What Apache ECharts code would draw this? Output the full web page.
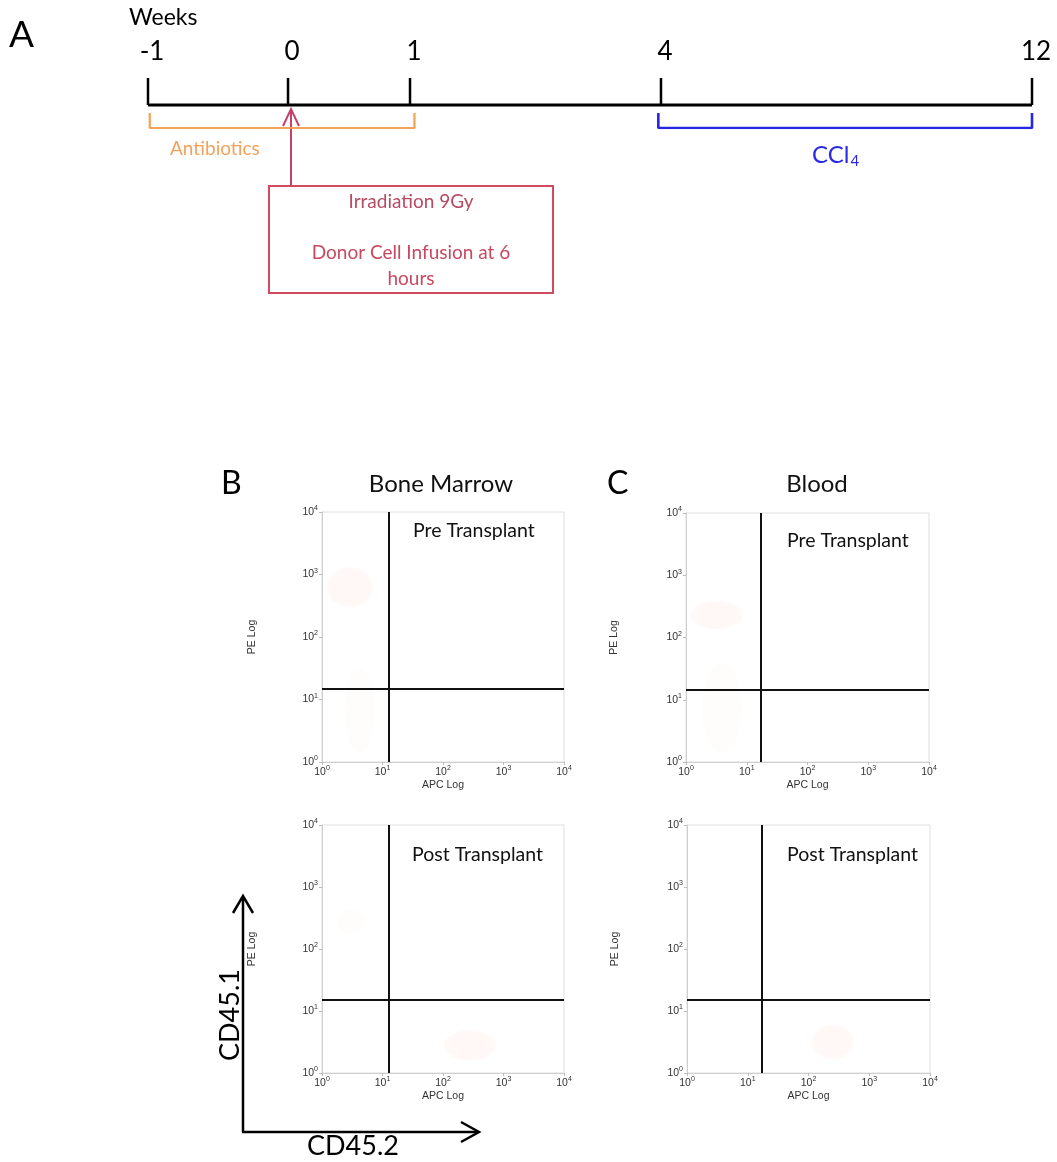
<!DOCTYPE html>
<html><head><meta charset="utf-8">
<script src="https://cdn.jsdelivr.net/npm/echarts@6/dist/echarts.min.js"></script>
<style>html,body{margin:0;padding:0;background:#fff}#c{width:1057px;height:1162px}</style>
</head><body><div id="c"></div>
<script>
// ---- Panel A: timeline (schematic, non-linear spacing as in the figure) ----
const weekLabels = ['-1', '0', '1', '4', '12'];
const weekPos = [0, 1.584, 2.964, 5.803, 10];       // schematic position of each week tick
const antibioticsWeeks = [0, 2];                    // indices into weekLabels: week -1 .. week 1
const ccl4Weeks = [3, 4];                           // week 4 .. week 12

// ---- Panels B/C: flow cytometry (log axes) ----
const decadeTicks = [1, 10, 100, 1000, 10000];
const plotNames = ['bmPre', 'bloodPre', 'bmPost', 'bloodPost'];
const gateApc = [12.8, 17.1, 12.8, 17.1];           // vertical quadrant gate (APC)
const gatePe = [14.7, 14.7, 15.0, 15.0];            // horizontal quadrant gate (PE)
const blobsBmPre = [[2.9, 630], [4.2, 6.8]];
const blobsBloodPre = [[3.2, 229], [3.9, 7.4]];
const blobsBmPost = [[280, 2.8], [3.0, 280]];
const blobsBloodPost = [[250, 3.2]];

const FONT = 'Lato, "Open Sans", sans-serif';
const chart = echarts.init(document.getElementById('c'), null, {renderer: 'canvas'});

const gridBoxes = [
  {left: 322, top: 512, width: 242, height: 250},
  {left: 686, top: 513, width: 243, height: 249},
  {left: 322, top: 825, width: 242, height: 248},
  {left: 687, top: 825, width: 243, height: 248}
];
const blobSets = [blobsBmPre, blobsBloodPre, blobsBmPost, blobsBloodPost];
const blobSizes = [[[46, 40], [30, 85]], [[52, 28], [40, 90]], [[52, 30], [28, 25]], [[42, 34]]];
const blobAlpha = [[0.07, 0.025], [0.07, 0.025], [0.07, 0.025], [0.07]];

function supLabel(v) {
  const e = Math.round(Math.log10(v));
  return '{b|10}{s|' + e + '}';
}
const labelRich = {
  b: {fontSize: 10.5, color: '#333', fontFamily: 'Liberation Sans, Arial'},
  s: {fontSize: 7, color: '#333', fontFamily: 'Liberation Sans, Arial', padding: [0, 0, 7, 0]}
};

const grids = [{left: 148, width: 884, top: 78, height: 50}].concat(gridBoxes.map(g => Object.assign({show: true, borderColor: '#dedede', borderWidth: 1}, g)));

const xAxes = [{gridIndex: 0, type: 'value', min: 0, max: 10, show: false}];
const yAxes = [{gridIndex: 0, type: 'value', min: 0, max: 1, show: false}];
gridBoxes.forEach((g, i) => {
  const nameGapY = (i % 2 === 0) ? 64 : 66;
  xAxes.push({
    gridIndex: i + 1, type: 'log', logBase: 10, min: decadeTicks[0], max: decadeTicks[4],
    name: 'APC Log', nameLocation: 'middle', nameGap: 18,
    nameTextStyle: {fontSize: 10.5, color: '#333', fontFamily: 'Liberation Sans, Arial'},
    axisLine: {lineStyle: {color: '#cfcfcf'}}, axisTick: {length: 3, lineStyle: {color: '#bbb'}},
    splitLine: {show: false}, minorTick: {show: false},
    axisLabel: {formatter: supLabel, rich: labelRich, margin: 3}
  });
  yAxes.push({
    gridIndex: i + 1, type: 'log', logBase: 10, min: decadeTicks[0], max: decadeTicks[4],
    name: 'PE Log', nameLocation: 'middle', nameGap: nameGapY, nameRotate: 90,
    nameTextStyle: {fontSize: 10.5, color: '#333', fontFamily: 'Liberation Sans, Arial'},
    axisLine: {show: true, lineStyle: {color: '#cfcfcf'}}, axisTick: {show: true, length: 3, lineStyle: {color: '#bbb'}},
    splitLine: {show: false},
    axisLabel: {formatter: supLabel, rich: labelRich, margin: 4}
  });
});

const series = [];
// main timeline
series.push({type: 'line', xAxisIndex: 0, yAxisIndex: 0, silent: true, symbol: 'none',
  data: [[weekPos[0], 0.46], [weekPos[4], 0.46]], lineStyle: {color: '#000', width: 3}});
// ticks + labels
series.push({type: 'custom', xAxisIndex: 0, yAxisIndex: 0, silent: true,
  data: weekPos.map(p => [p, 0.46]),
  encode: {x: 0, y: 1},
  renderItem: (params, api) => {
    const p = api.value(0);
    const top = api.coord([p, 1]);
    const bot = api.coord([p, 0.46]);
    return {type: 'group', children: [
      {type: 'line', shape: {x1: top[0], y1: top[1], x2: bot[0], y2: bot[1]}, style: {stroke: '#000', lineWidth: 2.5}},
      {type: 'text', style: {text: weekLabels[params.dataIndex], x: top[0] + 4, y: top[1] - 26,
        align: 'center', verticalAlign: 'middle', fontSize: 26, fontFamily: FONT, fill: '#000'}}
    ]};
  }});
// brackets
function bracket(idx, color, width, extra) {
  const x0 = weekPos[idx[0]] + extra[0], x1 = weekPos[idx[1]] + extra[1];
  return {type: 'line', xAxisIndex: 0, yAxisIndex: 0, silent: true, symbol: 'none',
    data: [[x0, 0.3], [x0, 0], [x1, 0], [x1, 0.3]], lineStyle: {color: color, width: width}};
}
series.push(bracket(antibioticsWeeks, '#f4a356', 2.2, [0.02, 0.05]));
series.push(bracket(ccl4Weeks, '#2626e4', 2.6, [-0.03, 0]));

// flow plots
gridBoxes.forEach((g, i) => {
  series.push({
    type: 'scatter', xAxisIndex: i + 1, yAxisIndex: i + 1, silent: true,
    data: blobSets[i].map((d, j) => ({value: d, symbolSize: blobSizes[i][j],
      itemStyle: {color: 'rgba(255,150,110,' + blobAlpha[i][j] + ')', shadowBlur: 20, shadowColor: 'rgba(255,150,110,' + blobAlpha[i][j] * 1.5 + ')'}})),
    markLine: {silent: true, symbol: 'none', label: {show: false}, animation: false,
      lineStyle: {color: '#111', width: 2, type: 'solid'},
      data: [{xAxis: gateApc[i]}, {yAxis: gatePe[i]}]}
  });
});

const red = '#c9485f';
const blue = '#2a2ae6';
const graphic = [
  {type: 'text', left: 9, top: 17, style: {text: 'A', fontSize: 37, fontFamily: FONT, fill: '#000'}},
  {type: 'text', left: 129, top: 6, style: {text: 'Weeks', fontSize: 23, fontFamily: FONT, fill: '#000'}},
  {type: 'text', left: 170, top: 139, style: {text: 'Antibiotics', fontSize: 19, fontFamily: FONT, fill: '#f3a25c'}},
  {type: 'text', left: 812, top: 143, style: {text: '{a|CCl}{s|4}', fill: blue,
    rich: {a: {fontSize: 24, fontFamily: FONT, fill: blue}, s: {fontSize: 15, fontFamily: FONT, fill: blue, padding: [12, 0, 0, 1]}}}},
  {type: 'polyline', shape: {points: [[291, 186], [291, 109]]}, style: {stroke: '#c2406a', lineWidth: 2, fill: null}},
  {type: 'polyline', shape: {points: [[283, 126], [291, 109], [299, 126]]}, style: {stroke: '#c2406a', lineWidth: 2, fill: null}},
  {type: 'rect', shape: {x: 269, y: 186, width: 284, height: 107}, style: {stroke: '#d24a5e', lineWidth: 2, fill: null}},
  {type: 'text', x: 411, y: 202, style: {text: 'Irradiation 9Gy', align: 'center', verticalAlign: 'middle', fontSize: 19, fontFamily: FONT, fill: '#b84a62'}},
  {type: 'text', x: 411, y: 253, style: {text: 'Donor Cell Infusion at 6', align: 'center', verticalAlign: 'middle', fontSize: 19, fontFamily: FONT, fill: red}},
  {type: 'text', x: 411, y: 279, style: {text: 'hours', align: 'center', verticalAlign: 'middle', fontSize: 19, fontFamily: FONT, fill: red}},

  {type: 'text', x: 221, y: 484, style: {text: 'B', verticalAlign: 'middle', fontSize: 32, fontFamily: FONT, fill: '#000'}},
  {type: 'text', x: 607, y: 484, style: {text: 'C', verticalAlign: 'middle', fontSize: 32, fontFamily: FONT, fill: '#000'}},
  {type: 'text', x: 441, y: 484, style: {text: 'Bone Marrow', align: 'center', verticalAlign: 'middle', fontSize: 24, fontFamily: FONT, fill: '#111'}},
  {type: 'text', x: 817, y: 484, style: {text: 'Blood', align: 'center', verticalAlign: 'middle', fontSize: 24, fontFamily: FONT, fill: '#111'}},
  {type: 'text', x: 413, y: 531, style: {text: 'Pre Transplant', verticalAlign: 'middle', fontSize: 19.5, fontFamily: FONT, fill: '#111'}},
  {type: 'text', x: 787, y: 541, style: {text: 'Pre Transplant', verticalAlign: 'middle', fontSize: 19.5, fontFamily: FONT, fill: '#111'}},
  {type: 'text', x: 412, y: 855, style: {text: 'Post Transplant', verticalAlign: 'middle', fontSize: 19.5, fontFamily: FONT, fill: '#111'}},
  {type: 'text', x: 787, y: 855, style: {text: 'Post Transplant', verticalAlign: 'middle', fontSize: 19.5, fontFamily: FONT, fill: '#111'}},

  {type: 'polyline', shape: {points: [[243, 1132], [243, 897]]}, style: {stroke: '#000', lineWidth: 2.5, fill: null}},
  {type: 'polyline', shape: {points: [[233, 913], [243, 896], [253, 913]]}, style: {stroke: '#000', lineWidth: 2.5, fill: null}},
  {type: 'polyline', shape: {points: [[242, 1132], [478, 1132]]}, style: {stroke: '#000', lineWidth: 2.5, fill: null}},
  {type: 'polyline', shape: {points: [[461, 1122], [479, 1132], [461, 1142]]}, style: {stroke: '#000', lineWidth: 2.5, fill: null}},
  {type: 'text', x: 230, y: 1015, rotation: Math.PI / 2, style: {text: 'CD45.1', align: 'center', verticalAlign: 'middle', fontSize: 27, fontFamily: FONT, fill: '#000'}},
  {type: 'text', x: 353, y: 1146, style: {text: 'CD45.2', align: 'center', verticalAlign: 'middle', fontSize: 27, fontFamily: FONT, fill: '#000'}}
];

chart.setOption({
  animation: false,
  backgroundColor: '#fff',
  grid: grids, xAxis: xAxes, yAxis: yAxes, series: series, graphic: graphic
});
</script></body></html>
